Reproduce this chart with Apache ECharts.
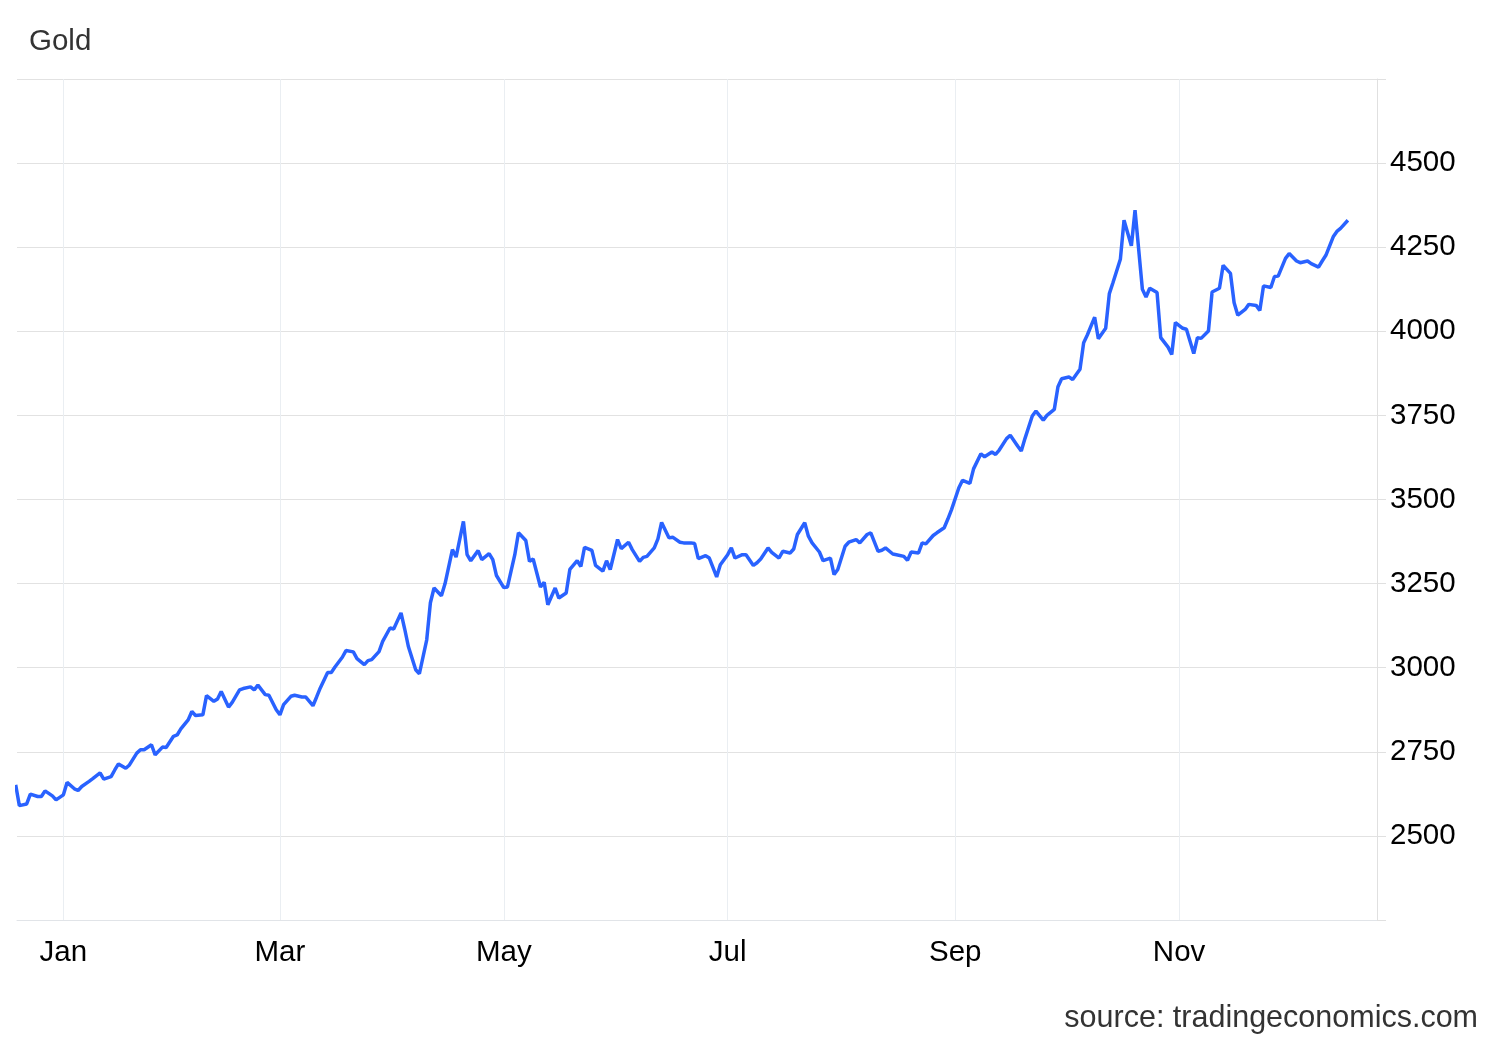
<!DOCTYPE html>
<html>
<head>
<meta charset="utf-8">
<script src="https://cdn.jsdelivr.net/npm/echarts@6/dist/echarts.min.js"></script>
<style>
html,body{margin:0;padding:0;background:#fff;}
#chart{width:1500px;height:1040px;}
</style>
</head>
<body>
<div id="chart"></div>
<script>
// Trading dates, as days counted from 2025-01-01 (negative = December 2024)
const dayOffsets = [
  -13,-12,-10,-9,-7,-6,-5,-3,-2,0,
  1,3,4,5,7,8,10,11,13,14,
  15,17,18,20,21,22,24,25,27,28,
  30,31,32,34,35,36,38,39,41,42,
  43,45,46,48,49,51,52,53,55,56,
  58,59,60,62,63,65,66,68,69,70,
  72,73,74,76,77,79,80,82,83,84,
  86,87,89,90,92,93,94,96,97,99,
  100,101,103,104,106,107,109,110,111,113,
  114,116,117,118,120,121,123,124,126,127,
  128,130,131,132,134,135,137,138,140,141,
  142,144,145,147,148,149,151,152,154,155,
  157,158,159,161,162,163,165,166,168,169,
  171,172,173,175,176,178,179,181,182,183,
  185,186,188,189,190,192,193,195,196,198,
  199,200,202,203,204,206,207,209,210,211,
  213,214,216,217,219,220,222,223,224,226,
  227,229,230,231,233,234,235,237,238,240,
  241,242,244,245,247,248,250,251,253,254,
  255,257,258,260,261,262,264,265,267,268,
  270,271,272,274,275,277,278,279,281,282,
  284,285,286,288,289,291,292,294,295,296,
  298,299,301,302,303,305,306,308,309,310,
  312,313,315,316,318,319,320,322,323,325,
  326,327,329,330,331,333,334,336,337,339,
  340,342,343,344,346,347,348,350
];

// Gold price, USD per troy ounce
const prices = [
  2652,2590,2595,2624,2617,2617,2634,2619,2607,2622,
  2659,2640,2635,2647,2662,2670,2687,2669,2676,2696,
  2714,2701,2711,2746,2756,2756,2771,2741,2764,2763,
  2796,2800,2818,2845,2870,2858,2860,2917,2900,2907,
  2929,2883,2897,2934,2938,2943,2934,2948,2920,2918,
  2875,2860,2890,2915,2918,2913,2913,2887,2913,2940,
  2986,2986,3002,3031,3051,3047,3027,3009,3021,3024,
  3048,3078,3118,3115,3163,3115,3063,2994,2982,3083,
  3193,3237,3214,3250,3351,3329,3435,3336,3318,3348,
  3321,3339,3321,3274,3238,3240,3336,3401,3378,3316,
  3323,3240,3254,3187,3237,3207,3222,3292,3318,3301,
  3358,3349,3304,3287,3318,3292,3381,3354,3373,3351,
  3316,3328,3331,3356,3383,3432,3386,3388,3373,3371,
  3371,3369,3324,3333,3326,3270,3306,3336,3356,3326,
  3336,3336,3304,3312,3323,3356,3343,3326,3346,3341,
  3353,3396,3431,3391,3371,3344,3318,3326,3277,3292,
  3361,3373,3381,3371,3396,3401,3346,3349,3356,3338,
  3336,3331,3319,3344,3341,3371,3368,3393,3401,3416,
  3442,3470,3535,3557,3548,3591,3636,3627,3641,3634,
  3647,3681,3691,3659,3644,3681,3748,3763,3736,3750,
  3768,3835,3859,3864,3857,3887,3966,3989,4042,3978,
  4009,4112,4145,4214,4330,4254,4360,4125,4102,4128,
  4115,3981,3953,3931,4026,4009,4006,3934,3981,3979,
  4001,4117,4128,4196,4172,4085,4048,4065,4080,4077,
  4062,4135,4130,4163,4164,4217,4231,4209,4204,4209,
  4201,4191,4209,4226,4281,4297,4306,4330
];

const monthTicks = ['2025-01-01','2025-03-01','2025-05-01','2025-07-01','2025-09-01','2025-11-01'];
const monthNames = ['Jan','Feb','Mar','Apr','May','Jun','Jul','Aug','Sep','Oct','Nov','Dec'];

const DAY = 86400000;
const base = Date.UTC(2025, 0, 1);
const seriesData = dayOffsets.map((d, i) => [base + d * DAY, prices[i]]);
const tickValues = monthTicks.map(s => Date.parse(s + 'T00:00:00Z'));

const FONT = 'Helvetica, Arial, "Liberation Sans", sans-serif';

const chart = echarts.init(document.getElementById('chart'), null, {renderer: 'canvas'});
chart.setOption({
  animation: false,
  backgroundColor: '#ffffff',
  textStyle: {fontFamily: FONT},
  title: [
    {text: 'Gold', left: 24, top: 22,
     textStyle: {fontFamily: FONT, fontSize: 29.5, fontWeight: 'normal', color: '#333333'}},
    {text: 'source: tradingeconomics.com', right: 17, top: 998,
     textStyle: {fontFamily: FONT, fontSize: 30.5, fontWeight: 'normal', color: '#333333'}}
  ],
  grid: {left: 17, right: 123, top: 79, bottom: 120, outerBoundsMode: 'none'},
  xAxis: {
    type: 'value',
    min: base - 12.64 * DAY,
    max: base + 357.93 * DAY,
    axisLine: {show: true, lineStyle: {color: '#e1e4e8', width: 1}},
    axisTick: {show: false, customValues: tickValues},
    axisLabel: {
      customValues: tickValues,
      formatter: v => monthNames[new Date(v).getUTCMonth()],
      color: '#000000', fontFamily: FONT, fontSize: 29.5, margin: 18
    },
    splitLine: {show: true, lineStyle: {color: '#eaeef2', width: 1}}
  },
  yAxis: {
    type: 'value',
    position: 'right',
    min: 2250, max: 4750, interval: 250,
    axisLine: {show: true, lineStyle: {color: '#e0e0e0', width: 1}},
    axisTick: {show: true, length: 9, lineStyle: {color: '#e0e0e0'}},
    axisLabel: {
      margin: 13, color: '#000000', fontFamily: FONT, fontSize: 29.5,
      verticalAlign: 'middle',
      padding: [10, 0, 0, 0],
      formatter: v => (v === 2250 || v === 4750) ? '' : String(v)
    },
    splitLine: {show: true, lineStyle: {color: '#e2e2e2', width: 1}}
  },
  series: [{
    type: 'line',
    data: seriesData,
    showSymbol: false,
    symbol: 'none',
    smooth: false,
    lineStyle: {color: '#2962ff', width: 3.5},
    itemStyle: {color: '#2962ff'}
  }]
});
</script>
</body>
</html>
